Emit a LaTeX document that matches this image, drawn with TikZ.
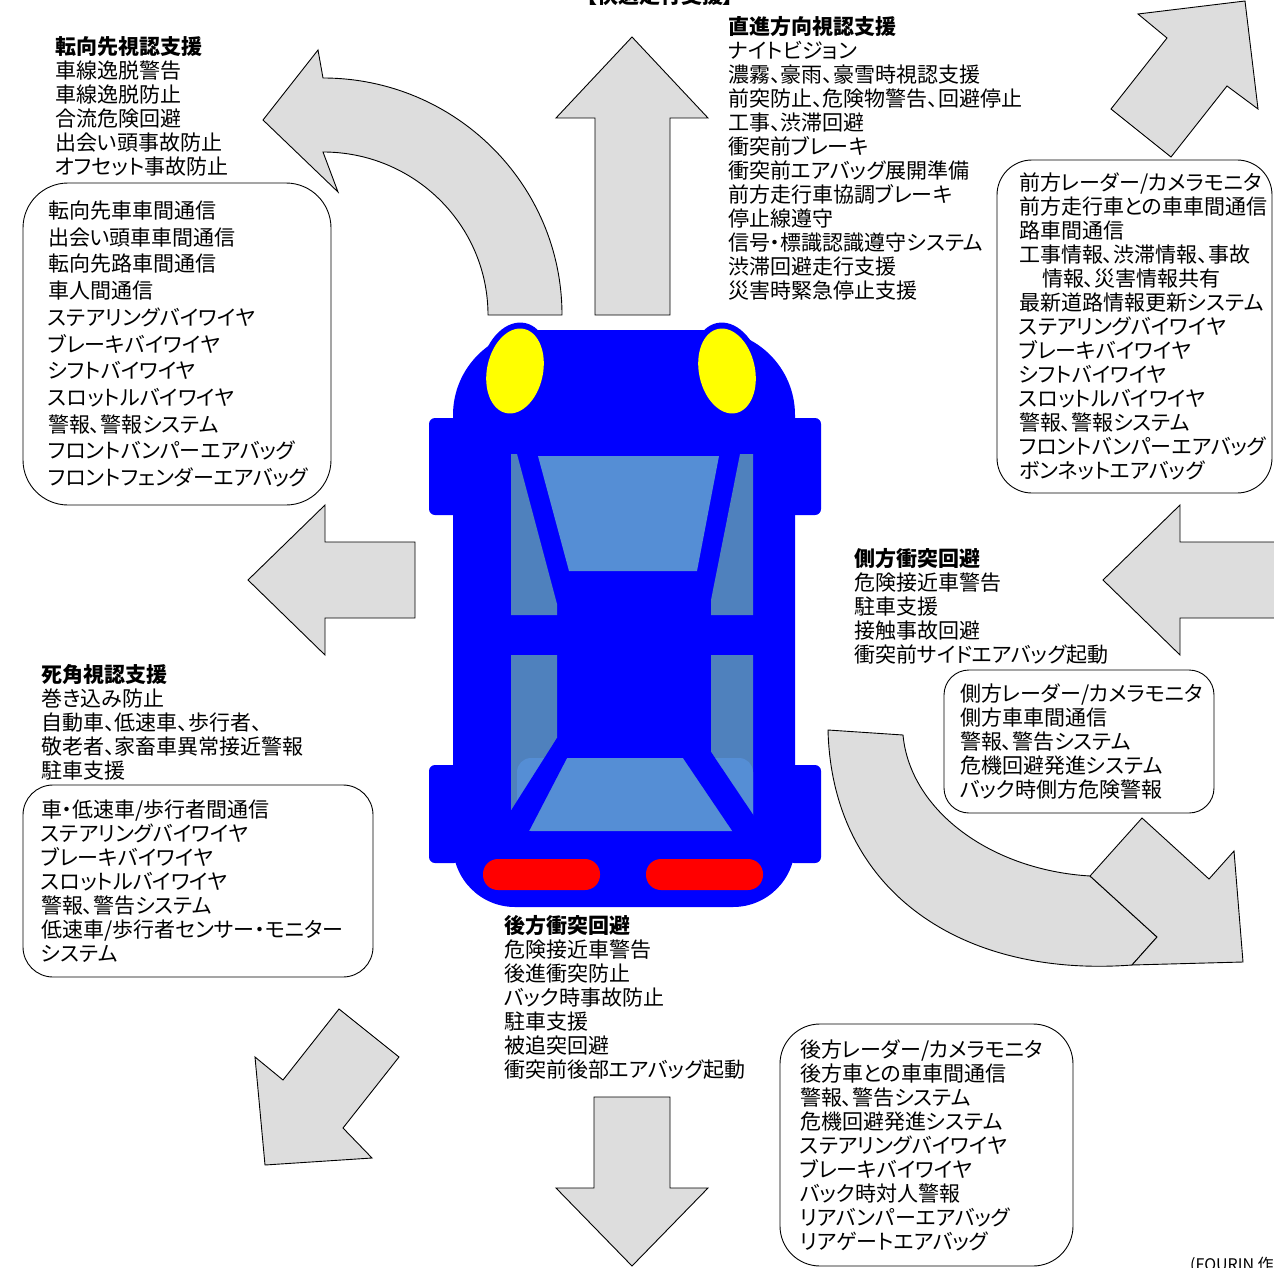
\documentclass[tikz,border=0pt]{standalone}
\usepackage{fontspec}
\setmainfont{Noto Sans CJK JP}[RawFeature=+palt]

\definecolor{carblue}{RGB}{0,0,255}
\definecolor{lampyellow}{RGB}{255,255,0}
\definecolor{tailred}{RGB}{255,0,0}
\definecolor{glassdark}{RGB}{79,129,189}
\definecolor{glasslight}{RGB}{85,142,213}
\definecolor{arrowgray}{RGB}{221,221,221}

\newcommand{\itemfont}{\fontsize{21}{24}\selectfont}

\tikzset{
  bigarrow/.style={draw=black, fill=arrowgray, line width=0.9pt, line join=miter},
  textblock/.style={anchor=north west, align=left, inner sep=0pt, font=\itemfont},
  infobox/.style={draw=black, line width=0.9pt, rounded corners=#1, align=left,
    inner ysep=0pt, font=\itemfont},
}

\begin{document}
\begin{tikzpicture}[x=1pt,y=-1pt]
\useasboundingbox (0,0) rectangle (1274,1268);

% Arrows
\draw[bigarrow] (595,315) -- (595,118) -- (556,118) -- (632,37) -- (708,118) -- (670,118) -- (670,315) -- cycle;
\draw[bigarrow] (594,1097) -- (670,1097) -- (670,1188) -- (708,1188) -- (632,1266) -- (556,1188) -- (594,1188) -- cycle;
\draw[bigarrow] (415,542) -- (325,542) -- (325,505) -- (248,580) -- (325,655) -- (325,618) -- (415,618) -- cycle;
\draw[bigarrow] (1290,542) -- (1180,542) -- (1180,505) -- (1103,580) -- (1180,655) -- (1180,618) -- (1290,618) -- cycle;
\draw[bigarrow] (1138,14) -- (1245,1) -- (1258,109) -- (1227,86) -- (1171,157) -- (1111,109) -- (1167,38) -- cycle;
\draw[bigarrow] (265,1165) -- (372,1158) -- (343,1128) -- (399,1057) -- (339,1009) -- (283,1080) -- (255,1057) -- cycle;
% curved arrows
\draw[bigarrow] (488,315) -- (562,315) arc[start angle=0, end angle=-90, x radius=239, y radius=237]
  -- (318,50) -- (263,120) -- (338,192) -- (323,152)
  arc[start angle=-90, end angle=0, x radius=165, y radius=163] -- cycle;
\draw[bigarrow] (828,730) -- (903,735) .. controls (910,810) and (990,870) .. (1090,876)
  -- (1157,937) -- (1132,965) .. controls (960,978) and (832,890) .. cycle;
\draw[bigarrow] (1090,876) -- (1142,818) -- (1209,879) -- (1234,851) -- (1243,962) -- (1132,965) -- (1157,937) -- cycle;

% Car body
\fill[carblue, rounded corners=85pt] (453,600) -- (453,330) -- (795,330) -- (795,600)
  [rounded corners=62pt] -- (795,907) -- (453,907) -- cycle;
\fill[carblue, rounded corners=6pt] (429,418) rectangle (460,515);
\fill[carblue, rounded corners=6pt] (788,418) rectangle (821,515);
\fill[carblue, rounded corners=6pt] (429,765) rectangle (460,863);
\fill[carblue, rounded corners=6pt] (788,765) rectangle (821,863);
% head lamps
\fill[carblue, rotate around={-12:(515,371)}] (515,371) ellipse[x radius=34pt, y radius=49pt];
\fill[carblue, rotate around={12:(727,371)}] (727,371) ellipse[x radius=34pt, y radius=49pt];
\fill[lampyellow, rotate around={-12:(515,371)}] (515,371) ellipse[x radius=28pt, y radius=43pt];
\fill[lampyellow, rotate around={12:(727,371)}] (727,371) ellipse[x radius=28pt, y radius=43pt];
% windows
\fill[glassdark] (511,454) -- (517,454) -- (557,604) -- (557,615) -- (511,615) -- cycle;
\fill[glassdark] (740,454) -- (753,454) -- (753,615) -- (711,615) -- (711,600) -- cycle;
\fill[glasslight] (538,456) -- (719,456) -- (697,571) -- (569,571) -- cycle;
\fill[glassdark] (511,655) -- (557,655) -- (557,738) -- (511,815) -- cycle;
\fill[glassdark] (711,655) -- (753,655) -- (753,818) -- (711,752) -- cycle;
\fill[glasslight, rounded corners=14pt] (517,758) rectangle (753,831);
\fill[carblue] (557,738) -- (567,752) -- (567,758) -- (527,835) -- (505,835) -- (505,820) -- cycle;
\fill[carblue] (711,752) -- (758,822) -- (758,835) -- (735,835) -- (683,758) -- (683,752) -- cycle;
% tail lamps
\fill[tailred, rounded corners=15pt] (483,859) rectangle (600,890);
\fill[tailred, rounded corners=15pt] (646,859) rectangle (763,890);

% Titles and lists
\node[anchor=center, inner sep=0pt, font=\itemfont\bfseries] (title) at (660,-4) {【快適走行支援】};

\node[textblock] (steer) at (55,36) {\textbf{転向先視認支援}\\車線逸脱警告\\車線逸脱防止\\合流危険回避\\出会い頭事故防止\\オフセット事故防止};
\node[infobox=45pt, font={\fontsize{21}{26.7}\selectfont}, inner xsep=25pt, text width=258pt,
  minimum width=308pt, minimum height=322pt] (steerdev) at (177,344)
  {転向先車車間通信\\出会い頭車車間通信\\転向先路車間通信\\車人間通信\\ステアリングバイワイヤ\\ブレーキバイワイヤ\\シフトバイワイヤ\\スロットルバイワイヤ\\警報、警報システム\\フロントバンパーエアバッグ\\フロントフェンダーエアバッグ};

\node[textblock] (straight) at (728,16) {\textbf{直進方向視認支援}\\ナイトビジョン\\濃霧、豪雨、豪雪時視認支援\\前突防止、危険物警告、回避停止\\工事、渋滞回避\\衝突前ブレーキ\\衝突前エアバッグ展開準備\\前方走行車協調ブレーキ\\停止線遵守\\信号・標識認識遵守システム\\渋滞回避走行支援\\災害時緊急停止支援};
\node[infobox=35pt, inner xsep=22pt, text width=231pt,
  minimum width=275pt, minimum height=333pt] (straightdev) at (1134.5,326.5)
  {前方レーダー/カメラモニタ\\前方走行車との車車間通信\\路車間通信\\工事情報、渋滞情報、事故\\\hspace*{23pt}情報、災害情報共有\\最新道路情報更新システム\\ステアリングバイワイヤ\\ブレーキバイワイヤ\\シフトバイワイヤ\\スロットルバイワイヤ\\警報、警報システム\\フロントバンパーエアバッグ\\ボンネットエアバッグ};

\node[textblock] (side) at (854,548) {\textbf{側方衝突回避}\\危険接近車警告\\駐車支援\\接触事故回避\\衝突前サイドエアバッグ起動};
\node[infobox=25pt, inner xsep=16pt, text width=238pt,
  minimum width=270pt, minimum height=143pt] (sidedev) at (1079,741.5)
  {側方レーダー/カメラモニタ\\側方車車間通信\\警報、警告システム\\危機回避発進システム\\バック時側方危険警報};

\node[textblock] (blind) at (41,664) {\textbf{死角視認支援}\\巻き込み防止\\自動車、低速車、歩行者、\\敬老者、家畜車異常接近警報\\駐車支援};
\node[infobox=30pt, inner xsep=18pt, text width=314pt,
  minimum width=350pt, minimum height=192pt] (blinddev) at (198,881)
  {車・低速車/歩行者間通信\\ステアリングバイワイヤ\\ブレーキバイワイヤ\\スロットルバイワイヤ\\警報、警告システム\\低速車/歩行者センサー・モニター\\システム};

\node[textblock] (rear) at (504,915) {\textbf{後方衝突回避}\\危険接近車警告\\後進衝突防止\\バック時事故防止\\駐車支援\\被追突回避\\衝突前後部エアバッグ起動};
\node[infobox=40pt, inner xsep=20pt, text width=253pt,
  minimum width=293pt, minimum height=242pt] (reardev) at (926.5,1145)
  {後方レーダー/カメラモニタ\\後方車との車車間通信\\警報、警告システム\\危機回避発進システム\\ステアリングバイワイヤ\\ブレーキバイワイヤ\\バック時対人警報\\リアバンパーエアバッグ\\リアゲートエアバッグ};

\node[anchor=north west, inner sep=0pt, font=\fontsize{16}{18}\selectfont] (source) at (1190,1257) {(FOURIN 作成)};
\end{tikzpicture}
\end{document}
